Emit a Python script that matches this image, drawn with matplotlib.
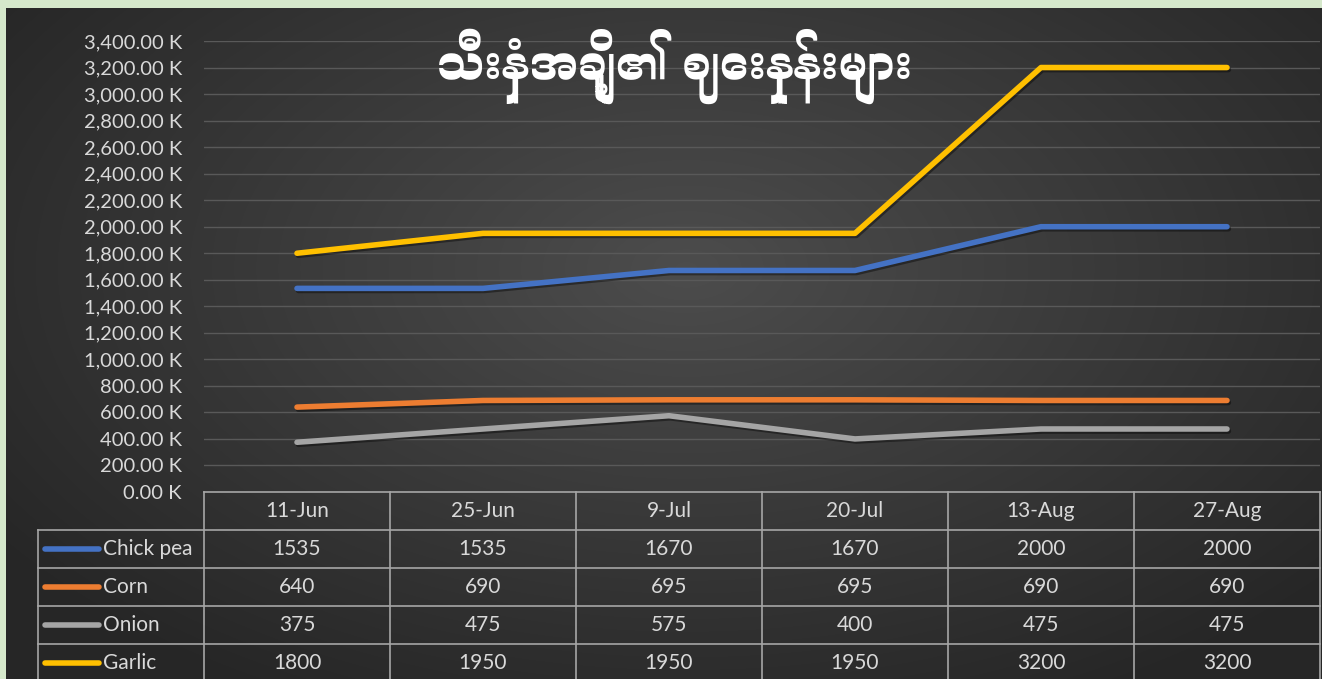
import numpy as np
import matplotlib.pyplot as plt
import matplotlib.patheffects as pe
from matplotlib import font_manager

# Data
dates = ["11-Jun", "25-Jun", "9-Jul", "20-Jul", "13-Aug", "27-Aug"]
names = ["Chick pea", "Corn", "Onion", "Garlic"]
chick_pea = [1535, 1535, 1670, 1670, 2000, 2000]
corn = [640, 690, 695, 695, 690, 690]
onion = [375, 475, 575, 400, 475, 475]
garlic = [1800, 1950, 1950, 1950, 3200, 3200]
colors = ["#4472C4", "#ED7D31", "#A5A5A5", "#FFC000"]
title = "သီးနှံအချို့၏ ဈေးနှုန်းများ"
yticks = np.arange(0, 3401, 200)

series = [chick_pea, corn, onion, garlic]

# Font for Myanmar title, if one is installed
mm_font = None
for f in font_manager.findSystemFonts():
    low = f.lower()
    if "myanmar" in low or "padauk" in low:
        mm_font = font_manager.FontProperties(fname=f).get_name()
        break
title_family = [mm_font, "DejaVu Sans"] if mm_font else ["DejaVu Sans"]

plt.rcParams["font.family"] = ["Lato", "DejaVu Sans"]
txt_col = "#d9d9d9"

W, H = 1322, 679
fig = plt.figure(figsize=(W / 100, H / 100), dpi=100)
fig.patch.set_facecolor("#d5e8cb")

# Dark radial gradient background
bg = fig.add_axes([6 / W, 0, 1 - 6 / W, 1 - 8 / H])
yy, xx = np.mgrid[0:671, 0:1316]
d = np.sqrt(((xx - 680) / 900) ** 2 + ((yy - 260) / 520) ** 2)
shade = np.clip(0.30 - 0.16 * d, 0.15, 0.30)
bg.imshow(np.dstack([shade] * 3), aspect="auto", extent=[0, 1, 0, 1])
bg.axis("off")

# Plot area
left, right, top, bottom = 204, 1320, 41, 492
ax = fig.add_axes([left / W, 1 - bottom / H, (right - left) / W, (bottom - top) / H])
ax.set_facecolor("none")
x = np.arange(len(dates))
for vals, c in zip(series, colors):
    ax.plot(x, vals, color=c, lw=4, solid_capstyle="round", solid_joinstyle="round",
            path_effects=[pe.SimpleLineShadow(offset=(1, -1.5), shadow_color="black", alpha=0.4),
                          pe.Normal()], zorder=3)
ax.set_xlim(-0.5, len(dates) - 0.5)
ax.set_ylim(0, 3400)
ax.set_yticks(yticks)
ax.set_yticklabels([f"{v:,.2f} K" for v in yticks], color=txt_col, fontsize=14.5)
ax.tick_params(axis="y", length=0, pad=16)
ax.set_xticks([])
ax.grid(axis="y", color="#595959", lw=1)
for s in ax.spines.values():
    s.set_visible(False)

# Data table drawn in pixel coordinates
tb = fig.add_axes([0, 0, 1, 1])
tb.set_xlim(0, W)
tb.set_ylim(H, 0)
tb.axis("off")
tb.patch.set_alpha(0)
row_h = 38
col_w = (right - left) / len(dates)
lc = "#a6a6a6"
tl = 38
rows_y = [bottom + row_h * i for i in range(len(names) + 2)]
# horizontal lines
tb.plot([left, right], [bottom, bottom], color=lc, lw=1.2)
for yv in rows_y[1:]:
    tb.plot([tl, right], [yv, yv], color=lc, lw=1.2)
# vertical lines
for i in range(len(dates) + 1):
    xv = left + col_w * i
    tb.plot([xv, xv], [bottom, H + 5], color=lc, lw=1.2)
tb.plot([tl, tl], [rows_y[1], H + 5], color=lc, lw=1.2)

for i, d_ in enumerate(dates):
    tb.text(left + col_w * (i + 0.5), bottom + row_h / 2, d_, ha="center", va="center",
            color=txt_col, fontsize=15)
for r, (nm, vals, c) in enumerate(zip(names, series, colors)):
    yc = rows_y[r + 1] + row_h / 2
    tb.plot([45, 99], [yc, yc], color=c, lw=4, solid_capstyle="round")
    tb.text(103, yc, nm, ha="left", va="center", color=txt_col, fontsize=15)
    for i, v in enumerate(vals):
        tb.text(left + col_w * (i + 0.5), yc, str(v), ha="center", va="center",
                color=txt_col, fontsize=15)

# Title
tb.text(675, 66, title, ha="center", va="center", color="white", fontsize=33,
        fontweight="bold", family=title_family)

fig.savefig("out.png", dpi=100, facecolor=fig.get_facecolor())
